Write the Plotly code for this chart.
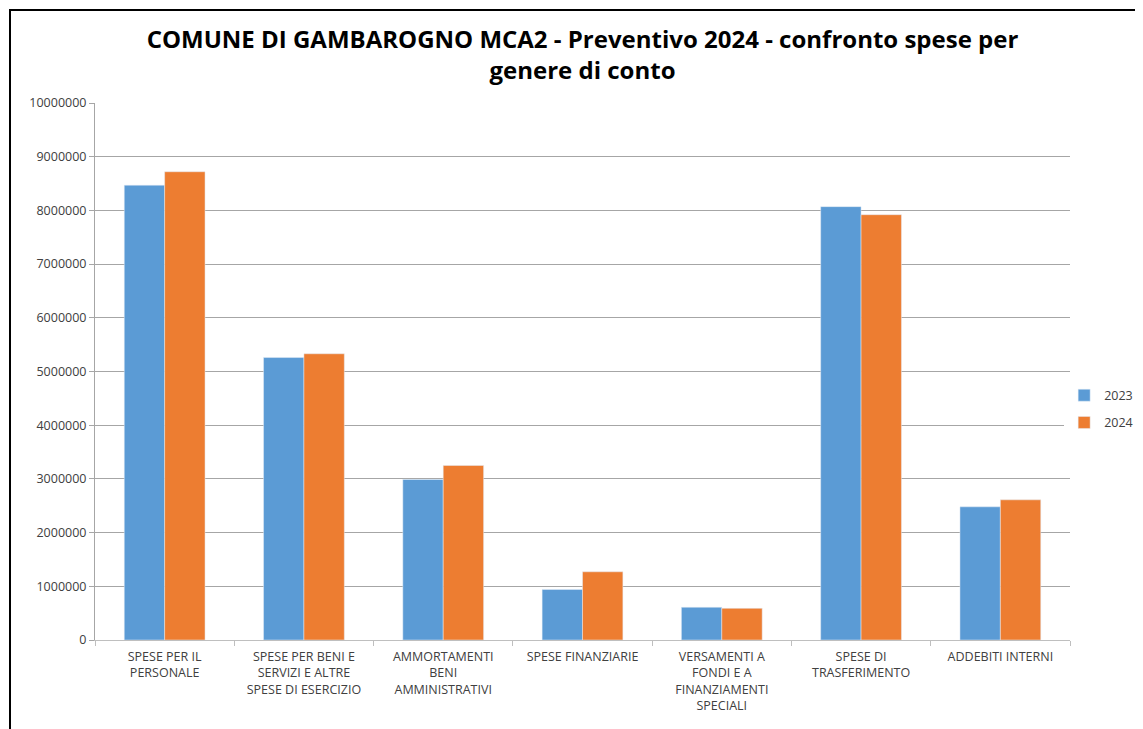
import plotly.graph_objects as go

categories = [
    "SPESE PER IL<br>PERSONALE",
    "SPESE PER BENI E<br>SERVIZI E ALTRE<br>SPESE DI ESERCIZIO",
    "AMMORTAMENTI<br>BENI<br>AMMINISTRATIVI",
    "SPESE FINANZIARIE",
    "VERSAMENTI A<br>FONDI E A<br>FINANZIAMENTI<br>SPECIALI",
    "SPESE DI<br>TRASFERIMENTO",
    "ADDEBITI INTERNI",
]
values_2023 = [8470000, 5260000, 2990000, 940000, 610000, 8070000, 2480000]
values_2024 = [8720000, 5330000, 3250000, 1270000, 590000, 7920000, 2610000]
y_ticks = [0, 1000000, 2000000, 3000000, 4000000, 5000000, 6000000, 7000000, 8000000, 9000000, 10000000]

fig = go.Figure()
fig.add_trace(go.Bar(name="2023", x=categories, y=values_2023, marker_color="#5B9BD5", legendgroup="a"))
fig.add_trace(go.Bar(name="2024", x=categories, y=values_2024, marker_color="#ED7D31", legendgroup="b"))

fig.update_layout(
    width=1143, height=729,
    paper_bgcolor="white", plot_bgcolor="white",
    margin=dict(l=87, r=81, t=95, b=97, autoexpand=False),
    barmode="group", bargap=0.42, bargroupgap=0,
    font=dict(family="Open Sans", color="#595959", size=12),
    title=dict(
        text="<b>COMUNE DI GAMBAROGNO MCA2 - Preventivo 2024 - confronto spese per<br>genere di conto</b>",
        x=0.5, xanchor="center", xref="paper", y=1 - 40 / 729, yanchor="middle",
        font=dict(family="Open Sans", size=24, color="#000000"),
    ),
    legend=dict(x=0.994, y=0.43, xanchor="left", yanchor="middle",
                font=dict(size=12.5, color="#404040"), tracegroupgap=8),
    showlegend=True,
)
fig.update_xaxes(
    showline=True, linecolor="#BFBFBF", linewidth=1,
    ticks="outside", tickson="boundaries", ticklen=5, tickcolor="#BFBFBF",
    tickfont=dict(size=12.5, color="#404040"), tickangle=0, ticklabelstandoff=5,
)
fig.update_yaxes(
    range=[0, 10000000], tickvals=y_ticks, ticktext=[str(v) for v in y_ticks],
    showgrid=True, gridcolor="#A6A6A6", gridwidth=1,
    showline=True, linecolor="#A6A6A6", linewidth=1,
    ticks="outside", ticklen=5, tickcolor="#A6A6A6",
    tickfont=dict(size=12.5, color="#404040"), zeroline=False,
)
fig.add_shape(type="rect", xref="paper", yref="paper",
              x0=(2 - 87) / 975, y0=-0.3, x1=1.2, y1=(632 - 2) / 537,
              line=dict(color="black", width=2), layer="above")
fig.write_html("out.html")
